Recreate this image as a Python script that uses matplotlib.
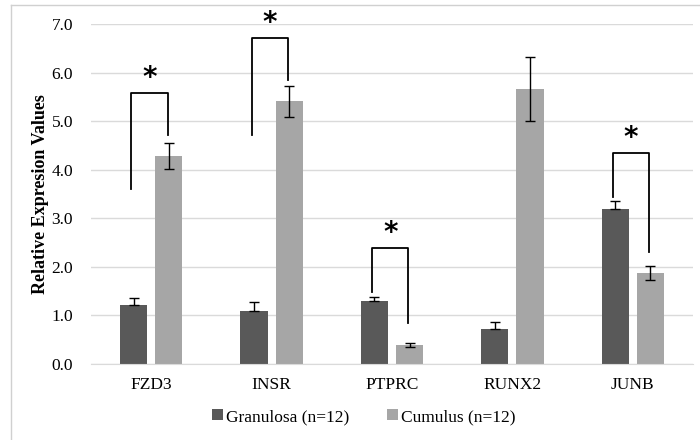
import matplotlib
matplotlib.use('Agg')
import matplotlib.pyplot as plt
import numpy as np

GENES = ['FZD3', 'INSR', 'PTPRC', 'RUNX2', 'JUNB']
GRANULOSA = [1.21, 1.10, 1.30, 0.73, 3.20]
GRANULOSA_ERR = [0.15, 0.17, 0.09, 0.13, 0.15]
CUMULUS = [4.29, 5.41, 0.39, 5.67, 1.88]
CUMULUS_ERR = [0.27, 0.32, 0.04, 0.66, 0.14]

# significance brackets: gene index, left leg bottom, right leg bottom, top
SIG_IDX = [0, 1, 2, 4]
SIG_LEFT = [3.60, 4.71, 1.49, 3.44]
SIG_RIGHT = [4.71, 5.84, 0.84, 2.31]
SIG_TOP = [5.59, 6.72, 2.38, 4.35]

DARK = '#595959'
LIGHT = '#a6a6a6'

plt.rcParams['font.family'] = ['Liberation Serif', 'DejaVu Serif']

fig = plt.figure(figsize=(7, 4.4), dpi=100)
ax = fig.add_axes([0.13, 0.1727, 0.86, 0.7727])

x = np.arange(len(GENES))
w = 0.225
off = 0.146
ax.bar(x - off, GRANULOSA, w, color=DARK, label='Granulosa (n=12)', zorder=2)
ax.bar(x + off, CUMULUS, w, color=LIGHT, label='Cumulus (n=12)', zorder=2)
ax.errorbar(x - off, GRANULOSA, yerr=[np.zeros(len(GENES)), GRANULOSA_ERR],
            fmt='none', ecolor='black', elinewidth=1, capsize=3.5, capthick=1, zorder=3)
ax.errorbar(x + off, CUMULUS, yerr=CUMULUS_ERR,
            fmt='none', ecolor='black', elinewidth=1, capsize=3.5, capthick=1, zorder=3)

for i, lb, rb, top in zip(SIG_IDX, SIG_LEFT, SIG_RIGHT, SIG_TOP):
    xl, xr = x[i] - off - 0.02, x[i] + off - 0.01
    ax.plot([xl, xl, xr, xr], [lb, top, top, rb], color='black', lw=1.3, zorder=4)
    ax.text((xl + xr) / 2, top + 0.02, '*', ha='center', va='bottom',
            fontsize=20, fontweight='bold', family='DejaVu Sans')

ax.set_xlim(-0.5, len(GENES) - 0.5)
ax.set_ylim(0, 7)
ax.set_yticks(np.arange(0, 7.1, 1.0))
ax.set_yticklabels([f'{v:.1f}' for v in np.arange(0, 7.1, 1.0)], fontsize=12.5)
ax.set_xticks(x)
ax.set_xticklabels(GENES, fontsize=12.5)
ax.tick_params(length=0, pad=9)
ax.tick_params(axis='y', pad=13)
ax.grid(axis='y', color='#dadada', lw=1, zorder=0)
for s in ['top', 'right', 'left']:
    ax.spines[s].set_visible(False)
ax.spines['bottom'].set_color('#dadada')
ax.set_ylabel('Relative Expresion Values', fontsize=13, fontweight='bold', labelpad=2)

fig.legend(loc='center', bbox_to_anchor=(0.52, 1 - 417 / 440), ncol=2, frameon=False,
           fontsize=12.5, handlelength=0.6, handleheight=0.6, handletextpad=0.2,
           columnspacing=2.2)

# outer chart border (left and top visible)
fig.add_artist(plt.Line2D([11 / 700, 11 / 700], [0, 1 - 5 / 440], color='#d0d0d0',
                          lw=1, transform=fig.transFigure))
fig.add_artist(plt.Line2D([11 / 700, 1], [1 - 5 / 440, 1 - 5 / 440], color='#d0d0d0',
                          lw=1, transform=fig.transFigure))

fig.savefig('out.png', dpi=100)
